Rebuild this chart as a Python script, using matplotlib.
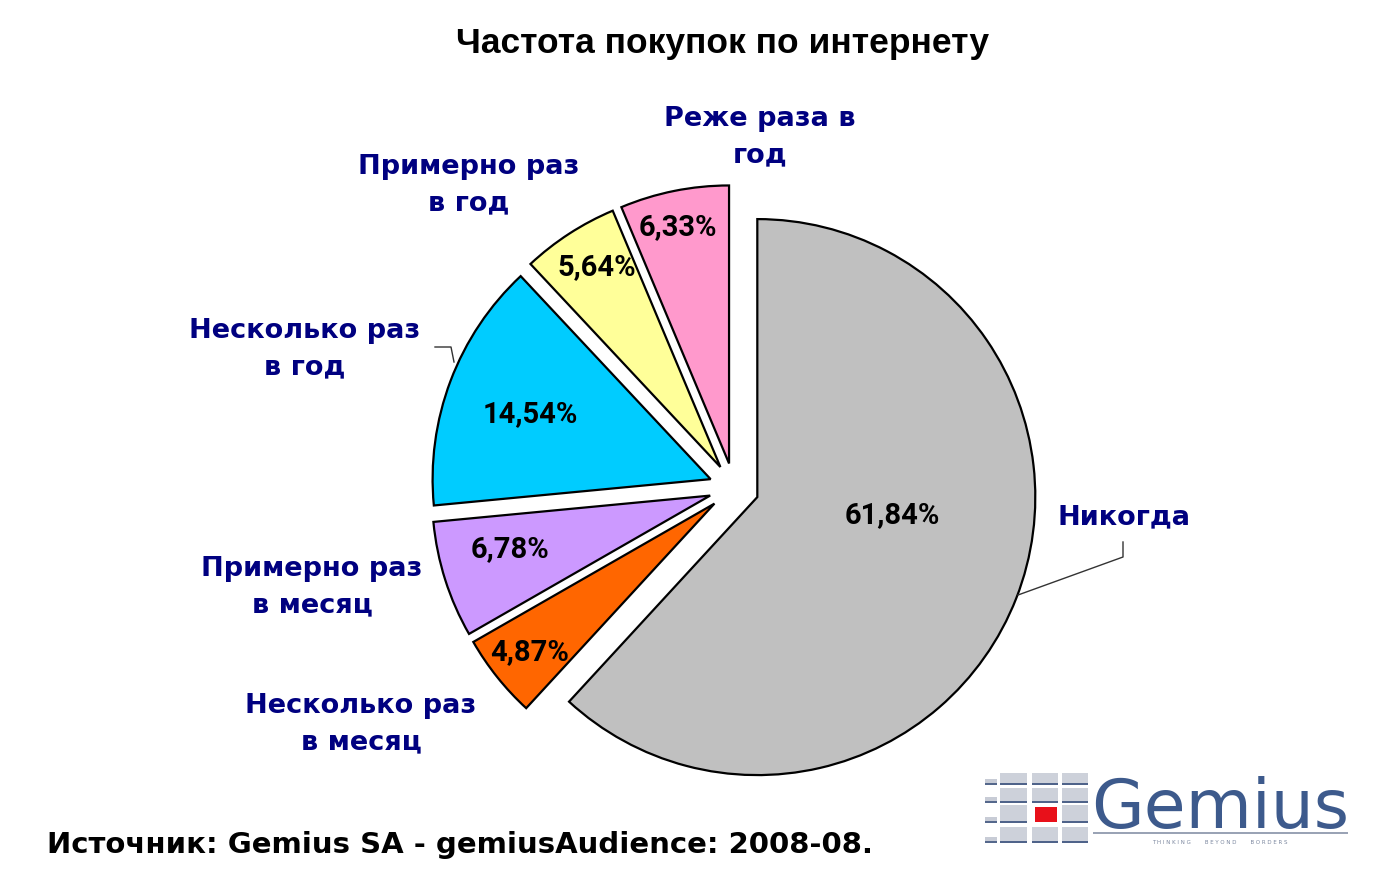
import matplotlib.pyplot as plt
from matplotlib.patches import Rectangle

# data
categories = ['Никогда', 'Несколько раз\nв месяц', 'Примерно раз\nв месяц',
              'Несколько раз\nв год', 'Примерно раз\nв год', 'Реже раза в\nгод']
shares = [61.84, 4.87, 6.78, 14.54, 5.64, 6.33]
colors = ['#C0C0C0', '#FF6600', '#CC99FF', '#00CCFF', '#FFFF99', '#FF99CC']
title = 'Частота покупок по интернету'
source = 'Источник: Gemius SA - gemiusAudience: 2008-08.'

W, H = 1374, 886
CX, CY, R = 734, 488, 278   # pie centre / radius in image pixels


def px(x, y):
    # image pixel -> data coords
    return (x - CX) / R, (CY - y) / R


fig = plt.figure(figsize=(W / 100, H / 100), dpi=100)
ax = fig.add_axes([0, 0, 1, 1])

wedges, texts, autotexts = ax.pie(
    shares, colors=colors, startangle=90, counterclock=False,
    explode=[0.09] * len(shares), radius=1,
    autopct=lambda p: f'{p:.2f}%'.replace('.', ','),
    wedgeprops=dict(edgecolor='black', linewidth=1.6),
    textprops=dict(fontsize=21, fontweight='bold', family='Roboto', color='black'))

ax.set_xlim(px(0, 0)[0], px(W, 0)[0])
ax.set_ylim(px(0, H)[1], px(0, 0)[1])
ax.set_aspect('auto')
ax.axis('off')

# percentage label positions (pixels)
pct_pos = [(892, 515), (530, 652), (510, 549), (530, 414), (597, 267), (678, 227)]
for t, (x, y) in zip(autotexts, pct_pos):
    t.set_position(px(x, y))
    t.set_ha('center')
    t.set_va('center')

# category labels
lab_pos = [(1124, 517), (361, 724), (312, 587), (305, 349), (469, 185), (760, 137)]
for name, (x, y) in zip(categories, lab_pos):
    ax.text(*px(x, y), name, ha='center', va='center', fontsize=19.5,
            fontweight='bold', color='#000080', family='DejaVu Sans',
            linespacing=1.5)

# leader lines
for pts in ([(435, 347), (451, 347), (454, 362)],
            [(1123, 542), (1123, 557), (1018, 595)]):
    xs, ys = zip(*[px(*p) for p in pts])
    ax.plot(xs, ys, color='#333333', lw=1)

fig.text(722 / W, 1 - 43 / H, title, ha='center', va='center', fontsize=25.5,
         fontweight='bold', family='Liberation Sans')
fig.text(47 / W, 1 - 845 / H, source, ha='left', va='center', fontsize=21,
         fontweight='bold', family='DejaVu Sans')

# Gemius logo
def box(x0, y0, x1, y1, fc):
    fig.patches.append(Rectangle((x0 / W, 1 - y1 / H), (x1 - x0) / W, (y1 - y0) / H,
                                 transform=fig.transFigure, facecolor=fc,
                                 edgecolor='none'))

cols = [(985, 997), (1000, 1027), (1032, 1058), (1062, 1088)]
rows = [(773, 785), (788, 803), (805, 823), (827, 843)]
for ci, (x0, x1) in enumerate(cols):
    for ri, (y0, y1) in enumerate(rows):
        if ci == 0:
            box(x0, y1 - 6, x1, y1, '#c8ccd6')
            box(x0, y1 - 2, x1, y1, '#55688c')
            continue
        if ci == 2 and ri == 2:
            box(x0 + 3, y0 + 2, x1 - 1, y1 - 1, '#e8101a')
            continue
        box(x0, y0, x1, y1, '#cdd1da')
        box(x0, y1 - 2, x1, y1, '#4f638a')
box(1093, 832, 1348, 834, '#9aa3b5')
fig.text(1091 / W, 1 - 828 / H, 'Gemius', ha='left', va='baseline', fontsize=49,
         color='#3d5a8c', family='DejaVu Sans')
fig.text(1220 / W, 1 - 842 / H, 'T H I N K I N G        B E Y O N D        B O R D E R S',
         ha='center', va='center', fontsize=4, color='#7a869e', family='DejaVu Sans')

fig.savefig('out.png', dpi=100, facecolor='white')
